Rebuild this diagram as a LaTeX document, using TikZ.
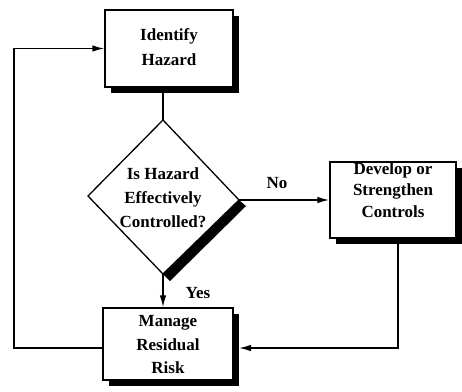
\documentclass[tikz,border=0pt]{standalone}
\usepackage{fontspec}
\setmainfont{Liberation Serif}
\usetikzlibrary{arrows.meta,shadows}
\begin{document}
\begin{tikzpicture}[x=1pt,y=-1pt,
  lbl/.style={font=\bfseries\fontsize{17}{23.5}\selectfont, align=center, inner sep=0pt},
  box/.style={draw, line width=1.4pt, fill=white, inner sep=0pt,
    drop shadow={shadow xshift=6pt, shadow yshift=-6pt, opacity=1, fill=black}},
  conn/.style={line width=1.4pt},
  arr/.style={conn, -{Latex[length=12pt,width=6.5pt]}}
]
\useasboundingbox (0,0) rectangle (462,391);

% boxes
\node[box, minimum width=128pt, minimum height=77pt] (id) at (169,48.5) {};
\node[lbl, font=\bfseries\fontsize{17}{25}\selectfont] (idt) at (169,47) {Identify\\Hazard};

\node[box, minimum width=126pt, minimum height=76pt] (dev) at (393,200) {};
\node[lbl, font=\bfseries\fontsize{17}{21.5}\selectfont] (devt) at (393,190) {Develop or\\Strengthen\\Controls};

\node[box, minimum width=130pt, minimum height=72pt] (man) at (168,344) {};
\node[lbl] (mant) at (168,345) {Manage\\Residual\\Risk};

% diamond
\coordinate (dtop) at (163,120);
\coordinate (dright) at (239,200);
\coordinate (dbot) at (163,274);
\coordinate (dleft) at (88,196);
\fill[black] (dright) -- ++(7,6) -- ([shift={(7,7)}]dbot) -- (dbot) -- cycle;
\draw[line width=1.3pt, fill=white, line join=miter] (dtop) -- (dright) -- (dbot) -- (dleft) -- cycle;
\node[lbl, font=\bfseries\fontsize{17}{24}\selectfont] (dt) at (163,198) {Is Hazard\\Effectively\\Controlled?};

% connectors
\coordinate (idsh) at (163,93);
\draw[conn] (idsh) -- (dtop);
\draw[arr] (dright) -- (dev.west |- dright) coordinate (devin);
\node[lbl] (no) at (277,183) {No};
\draw[arr] (dbot) -- (dbot |- man.north);
\node[lbl] (yes) at (198,293) {Yes};

\coordinate (devsh) at (398,244);
\coordinate (mansh) at (239,348);
\draw[arr] (devsh) |- (mansh);

\coordinate (lx) at (14,348);
\draw[arr] (man.west |- lx) -- (lx) |- (id.west);
\end{tikzpicture}
\end{document}
